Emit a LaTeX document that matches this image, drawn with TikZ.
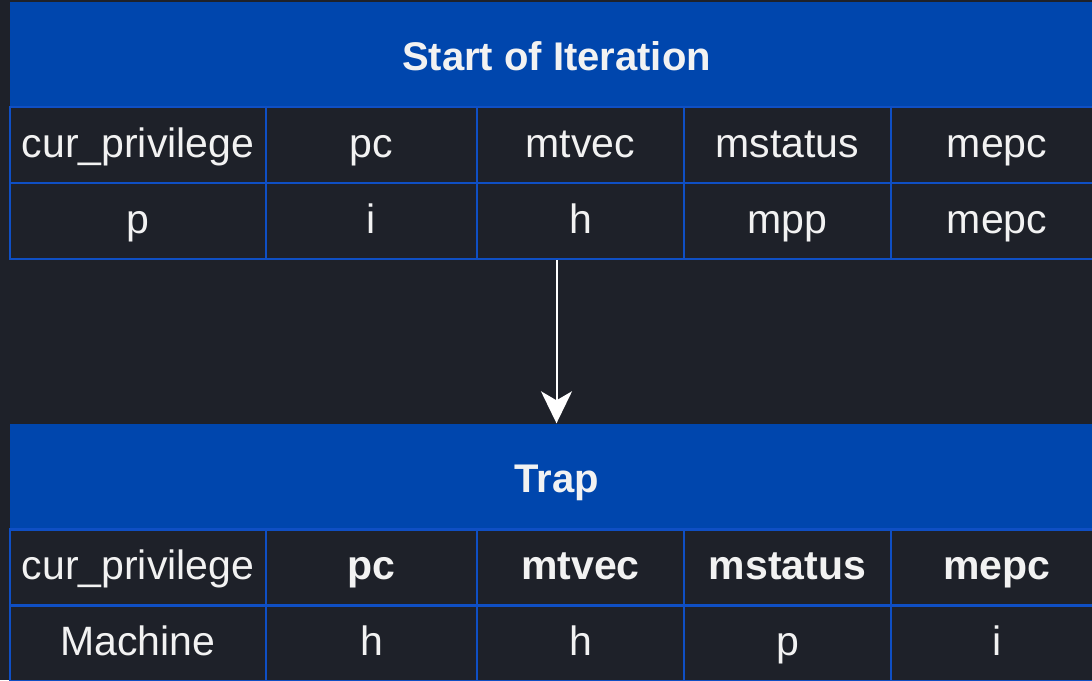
\documentclass[tikz,border=0pt]{standalone}
\usepackage{fontspec}
\setmainfont{Liberation Sans}
\usetikzlibrary{arrows.meta}
\definecolor{bg}{HTML}{1E2129}
\definecolor{hdr}{HTML}{0046AD}
\definecolor{gridline}{HTML}{0F4FC4}
\definecolor{ink}{HTML}{F2F2F2}

\begin{document}
\begin{tikzpicture}[x=1pt,y=-1pt,
  cell/.style={draw=gridline, line width=2.2pt, text=ink, minimum height=76pt,
    inner sep=0pt, text height=30pt, text depth=6pt, font=\fontsize{41}{44}\selectfont},
  c1/.style={cell, minimum width=256pt},
  c2/.style={cell, minimum width=211pt},
  c3/.style={cell, minimum width=207pt},
  c4/.style={cell, minimum width=207pt},
  c5/.style={cell, minimum width=212pt},
  head/.style={fill=hdr, text=ink, inner sep=0pt, minimum width=1093pt, minimum height=106pt,
    text height=37pt, text depth=6pt, font=\bfseries\fontsize{40}{44}\selectfont},
  flow/.style={draw=white, line width=2pt, -{Stealth[length=32pt,width=31pt,inset=9pt]}}]
\clip (0,0) rectangle (1092,680);
\fill[bg] (0,0) rectangle (1092,680);

% Start of iteration table
\node[head] (h1) at (556.5,54.5) {Start of Iteration};
\node[c1] (a1) at (138,145) {cur\_privilege};
\node[c2] (a2) at (371.5,145) {pc};
\node[c3] (a3) at (580.5,145) {mtvec};
\node[c4] (a4) at (787.5,145) {mstatus};
\node[c5] (a5) at (997,145) {mepc};
\node[c1] (b1) at (138,221) {p};
\node[c2] (b2) at (371.5,221) {i};
\node[c3] (b3) at (580.5,221) {h};
\node[c4] (b4) at (787.5,221) {mpp};
\node[c5] (b5) at (997,221) {mepc};

% Trap table
\node[head] (h2) at (556.5,476.5) {Trap};
\node[c1] (c1n) at (138,567.5) {cur\_privilege};
\node[c2] (c2n) at (371.5,567.5) {\bfseries pc};
\node[c3] (c3n) at (580.5,567.5) {\bfseries mtvec};
\node[c4] (c4n) at (787.5,567.5) {\bfseries mstatus};
\node[c5] (c5n) at (997,567.5) {\bfseries mepc};
\node[c1] (d1) at (138,643.5) {Machine};
\node[c2] (d2) at (371.5,643.5) {h};
\node[c3] (d3) at (580.5,643.5) {h};
\node[c4] (d4) at (787.5,643.5) {p};
\node[c5] (d5) at (997,643.5) {i};

% transition
\draw[flow] (h1.center |- b3.south) -- (h2.north);
\end{tikzpicture}
\end{document}
